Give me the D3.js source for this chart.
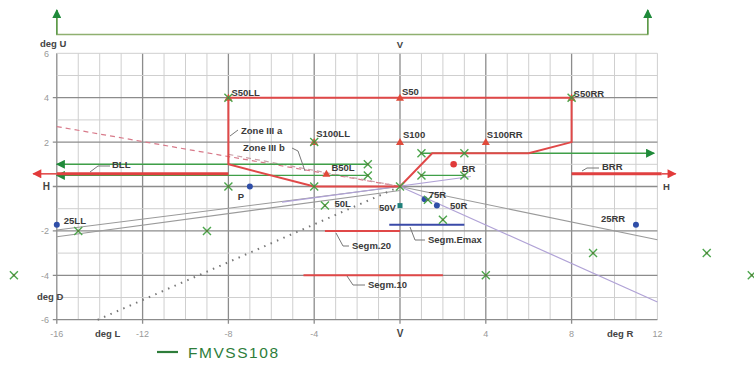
<!DOCTYPE html>
<html><head><meta charset="utf-8">
<script src="https://cdn.jsdelivr.net/npm/d3@7/dist/d3.min.js"></script>
<style>body{margin:0;background:#fff}svg{display:block}</style>
</head><body>
<svg id="chart" width="754" height="365"></svg>
<script>
// ---------- data ----------
const xTicks = [-16, -12, -8, -4, 0, 4, 8, 12];
const xTickLabels = ["-16", "-12", "-8", "-4", "V", "4", "8", "12"];
const yTicks = [6, 4, 2, 0, -2, -4, -6];
const yTickLabels = ["6", "4", "2", "H", "-2", "-4", "-6"];

// FMVSS108 test points (green crosses)
const fmvssPoints = [
  [-8, 4], [8, 4], [-4, 2], [1, 1.5], [3, 1.5], [-1.5, 1], [-1.5, 0.5], [1, 0.5], [3, 0.5],
  [-8, 0], [-4, 0], [0, 0], [-3.5, -0.86], [1.3, -0.6], [2, -1.5], [-15, -2], [-9, -2],
  [9, -3], [4, -4], [-18, -4], [14.3, -3], [16.4, -4]
];
// FMVSS108 zones (green lines)
const fmvssLines = [
  { name: "1.5U 1R-R", pts: [[1, 1.5], [11.85, 1.5]], arrow: true },
  { name: "0.5U 1R-3R", pts: [[1, 0.5], [3, 0.5]], arrow: false },
  { name: "1U 1.5L-L", pts: [[-1.5, 1], [-16, 1]], arrow: true },
  { name: "0.5U 1.5L-L", pts: [[-1.5, 0.5], [-16, 0.5]], arrow: true }
];
const fmvssTop = [[-16, 7.95], [-16, 6.85], [11.55, 6.85], [11.55, 7.95]];

// ECE points
const eceNames  = ["S50LL", "S50", "S50RR", "S100LL", "S100", "S100RR", "B50L", "BR", "P", "25LL", "25RR", "50L", "50V", "75R", "50R"];
const eceX      = [-8, 0, 8, -4, 0, 4, -3.43, 2.5, -7, -16, 11, -3.43, 0, 1.15, 1.72];
const eceY      = [4, 4, 4, 2, 2, 2, 0.57, 1, 0, -1.72, -1.72, -0.86, -0.86, -0.57, -0.86];
const eceShape  = ["tri", "tri", "tri", "tri", "tri", "tri", "tri", "dot", "blue", "blue", "blue", "none", "sq", "blue", "blue"];

// ECE lines
const zoneIIIa = [[-8, 4], [8, 4], [8, 2], [6, 1.5], [1.5, 1.5], [0, 0], [-4, 0], [-8, 1], [-8, 4]];
const zoneIIIb = [[-16, 2.7], [0, 0]];
const zoneIIIb2 = [[-8, 1.45], [0, 0]];
const bllLine = [[-16, 0.57], [-8, 0.57]];
const brrLine = [[8, 0.57], [12.2, 0.57]];
const segm20 = [[-3.5, -2], [0, -2]];
const segm10 = [[-4.5, -4], [2, -4]];
const segmEmax = [[-0.5, -1.72], [3, -1.72]];
const grayLines = [
  [[0, 0], [12, -2.4]],
  [[-16, -1.96], [0, 0]],
  [[-16, -2.26], [0, -0.18]]
];
const purpleLines = [
  [[0, 0], [12, -5.2]],
  [[-5.5, -0.7], [3.3, 0.45]]
];
const dottedLine = [[0, 0], [-14.2, -6.05]];

// ---------- drawing ----------
const svg = d3.select("#chart");
const x = d3.scaleLinear().domain([-16, 12]).range([56.8, 657.4]);
const y = d3.scaleLinear().domain([-6, 6]).range([319.7, 53.3]);
const line = d3.line().x(d => x(d[0])).y(d => y(d[1]));
const FONT = "'Liberation Sans', Arial, sans-serif";

const defs = svg.append("defs");
function mk(id, color, w, h) {
  defs.append("marker").attr("id", id).attr("viewBox", "0 0 10 10")
    .attr("refX", 9).attr("refY", 5).attr("markerWidth", w).attr("markerHeight", h)
    .attr("markerUnits", "userSpaceOnUse").attr("orient", "auto")
    .append("path").attr("d", "M0,0L10,5L0,10Z").attr("fill", color);
}
mk("ag", "#1f8a3a", 12, 9);
mk("ar", "#e23a3a", 11, 9);

// grid
const gx = d3.range(-16, 13);
const gy = d3.range(-6, 7);
const grid = svg.append("g");
gx.forEach(v => {
  const major = v % 4 === 0 && v !== 12;
  grid.append("line").attr("x1", x(v)).attr("x2", x(v))
    .attr("y1", y(6)).attr("y2", major ? y(-6) + 4 : y(-6))
    .attr("stroke", major ? "#8c8c8c" : "#cfcfcf").attr("stroke-width", major ? 1.3 : 1);
});
gy.forEach(v => {
  const major = v % 2 === 0 && v !== 6;
  grid.append("line").attr("x1", major ? x(-16) - 4 : x(-16)).attr("x2", x(12))
    .attr("y1", y(v)).attr("y2", y(v))
    .attr("stroke", major ? "#8c8c8c" : "#cfcfcf").attr("stroke-width", major ? 1.3 : 1);
});

// axis tick labels
const axisG = svg.append("g").attr("font-family", FONT);
xTicks.forEach((v, i) => {
  const isV = xTickLabels[i] === "V";
  axisG.append("text").attr("x", x(v)).attr("y", 337).attr("text-anchor", "middle")
    .attr("font-size", isV ? 10 : 9).attr("font-weight", isV ? "bold" : "normal")
    .attr("fill", isV ? "#444" : "#999").text(xTickLabels[i]);
});
yTicks.forEach((v, i) => {
  const isH = yTickLabels[i] === "H";
  axisG.append("text").attr("x", isH ? 50 : 49).attr("y", y(v) + 3.5).attr("text-anchor", "end")
    .attr("font-size", isH ? 10 : 9).attr("font-weight", isH ? "bold" : "normal")
    .attr("fill", isH ? "#444" : "#999").text(yTickLabels[i]);
});
const axisTitles = [
  { t: "deg U", x: 40, y: 47, a: "start" },
  { t: "deg D", x: 37, y: 300, a: "start" },
  { t: "deg L", x: 95, y: 337, a: "start" },
  { t: "deg R", x: 607, y: 337, a: "start" },
  { t: "V", x: 400, y: 48, a: "middle" },
  { t: "H", x: 663, y: 190, a: "start" }
];
axisTitles.forEach(d => axisG.append("text").attr("x", d.x).attr("y", d.y).attr("text-anchor", d.a)
  .attr("font-size", 9.5).attr("font-weight", "bold").attr("fill", "#444").text(d.t));

// top green bracket (10U-90U)
svg.append("path").attr("d", line(fmvssTop)).attr("fill", "none")
  .attr("stroke", "#8fb070").attr("stroke-width", 1.5);
[[fmvssTop[1], fmvssTop[0]], [fmvssTop[2], fmvssTop[3]]].forEach(p =>
  svg.append("path").attr("d", line(p)).attr("stroke", "#5c9a4a").attr("stroke-width", 1.5)
    .attr("fill", "none").attr("marker-end", "url(#ag)"));

// gray / purple lines
grayLines.forEach(p => svg.append("path").attr("d", line(p)).attr("fill", "none")
  .attr("stroke", "#9a9a9a").attr("stroke-width", 1.1));
purpleLines.forEach(p => svg.append("path").attr("d", line(p)).attr("fill", "none")
  .attr("stroke", "#b0a2d6").attr("stroke-width", 1.2));
svg.append("path").attr("d", line(dottedLine)).attr("fill", "none")
  .attr("stroke", "#777").attr("stroke-width", 2).attr("stroke-dasharray", "1.5,5.5");

// zone III b dashed
svg.append("path").attr("d", line(zoneIIIb)).attr("fill", "none")
  .attr("stroke", "#d87a8a").attr("stroke-width", 1.2).attr("stroke-dasharray", "5,4");
svg.append("path").attr("d", line(zoneIIIb2)).attr("fill", "none")
  .attr("stroke", "#c9a0a8").attr("stroke-width", 1.2).attr("stroke-dasharray", "5,4");

// FMVSS green lines
fmvssLines.forEach(d => svg.append("path").attr("d", line(d.pts)).attr("fill", "none")
  .attr("stroke", "#3f9f48").attr("stroke-width", 1.4)
  .attr("marker-end", d.arrow ? "url(#ag)" : null));

// ECE red lines
svg.append("path").attr("d", line(zoneIIIa)).attr("fill", "none")
  .attr("stroke", "#e04848").attr("stroke-width", 2);
[bllLine, brrLine].forEach(p => svg.append("path").attr("d", line(p)).attr("fill", "none")
  .attr("stroke", "#e04040").attr("stroke-width", 3));
svg.append("path").attr("d", line([bllLine[0], [-17.1, 0.57]])).attr("stroke", "#e04040")
  .attr("stroke-width", 1.5).attr("marker-end", "url(#ar)");
svg.append("path").attr("d", line([brrLine[1], [12.85, 0.57]])).attr("stroke", "#e04040")
  .attr("stroke-width", 1.5).attr("marker-end", "url(#ar)");
[segm20, segm10].forEach(p => svg.append("path").attr("d", line(p)).attr("fill", "none")
  .attr("stroke", "#e04848").attr("stroke-width", 2));
svg.append("path").attr("d", line(segmEmax)).attr("fill", "none")
  .attr("stroke", "#3a4aa8").attr("stroke-width", 2);

// ECE point markers
eceNames.forEach((n, i) => {
  const px = x(eceX[i]), py = y(eceY[i]), s = eceShape[i];
  if (s === "tri") svg.append("path").attr("d", `M${px},${py - 4}L${px + 4},${py + 3}L${px - 4},${py + 3}Z`).attr("fill", "#e04a3a");
  else if (s === "dot") svg.append("circle").attr("cx", px).attr("cy", py).attr("r", 3.3).attr("fill", "#e03a3a");
  else if (s === "blue") svg.append("circle").attr("cx", px).attr("cy", py).attr("r", 3).attr("fill", "#2f4ea8");
  else if (s === "sq") svg.append("rect").attr("x", px - 2.5).attr("y", py - 2.5).attr("width", 5).attr("height", 5).attr("fill", "#1f7f7a");
});

// FMVSS crosses
fmvssPoints.forEach(p => {
  const px = x(p[0]), py = y(p[1]);
  svg.append("path").attr("d", `M${px - 4},${py - 4}L${px + 4},${py + 4}M${px - 4},${py + 4}L${px + 4},${py - 4}`)
    .attr("stroke", "#4da64d").attr("stroke-width", 1.4);
  svg.append("rect").attr("x", px - 1).attr("y", py - 1).attr("width", 2).attr("height", 2).attr("fill", "#5a7a3a");
});

// point labels (offsets in px)
const labelOffset = {
  "S50LL": [3, -2], "S50": [2, -3], "S50RR": [2, -1], "S100LL": [2, -5], "S100": [3, -4], "S100RR": [1, -4],
  "B50L": [5, -3], "BR": [8, 8], "P": [-12, 13], "25LL": [7, -1], "25RR": [-35, -3], "50L": [8, 1],
  "50V": [-21, 5], "75R": [4, -1], "50R": [13, 3]
};
const lg = svg.append("g").attr("font-family", FONT).attr("font-size", 9.5).attr("font-weight", "bold").attr("fill", "#3a3a3a");
eceNames.forEach((n, i) => {
  const o = labelOffset[n];
  lg.append("text").attr("x", x(eceX[i]) + o[0]).attr("y", y(eceY[i]) + o[1]).text(n);
});

// annotated labels with leaders
const notes = [
  { t: "Zone III a", tx: 241, ty: 134, lead: [[238, 130], [230, 136]] },
  { t: "Zone III b", tx: 243, ty: 151, lead: [[292, 148], [298, 151], [305, 171]] },
  { t: "BLL", tx: 112, ty: 168, lead: [[110, 166], [98, 166], [90, 172]] },
  { t: "BRR", tx: 602, ty: 170, lead: [[599, 168], [587, 168], [582, 171]] },
  { t: "Segm.20", tx: 352, ty: 249, lead: [[349, 246], [343, 246], [336, 233]] },
  { t: "Segm.Emax", tx: 428, ty: 243, lead: [[425, 240], [415, 240], [410, 227]] },
  { t: "Segm.10", tx: 368, ty: 288, lead: [[365, 285], [353, 285], [347, 276]] }
];
notes.forEach(d => {
  svg.append("path").attr("d", d3.line()(d.lead)).attr("fill", "none").attr("stroke", "#777").attr("stroke-width", 1);
  lg.append("text").attr("x", d.tx).attr("y", d.ty).text(d.t);
});

// legend
const legendItems = ["FMVSS108"];
legendItems.forEach((t, i) => {
  svg.append("line").attr("x1", 157).attr("x2", 178).attr("y1", 352).attr("y2", 352)
    .attr("stroke", "#2e7d3a").attr("stroke-width", 2.2);
  svg.append("text").attr("x", 188).attr("y", 358).attr("font-family", FONT).attr("font-size", 15.5)
    .attr("fill", "#2e7d3a").attr("textLength", 90).text(t);
});
</script>
</body></html>
